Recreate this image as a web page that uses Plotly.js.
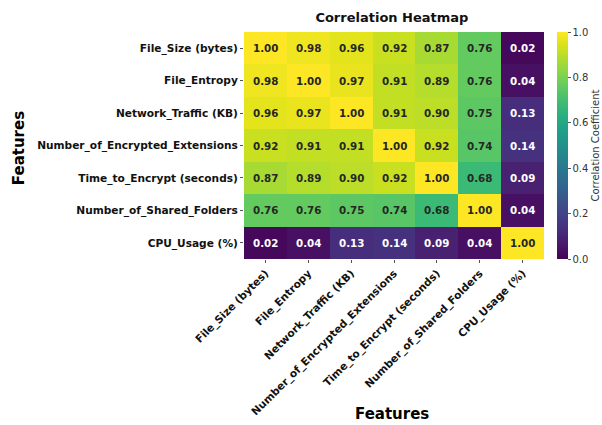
<!DOCTYPE html>
<html>
<head>
<meta charset="utf-8">
<script src="https://cdn.plot.ly/plotly-3.0.1.min.js"></script>
<style>html,body{margin:0;padding:0;background:#fff;}#chart{width:602px;height:425px;}</style>
</head>
<body>
<div id="chart"></div>
<script>
const features = ["File_Size (bytes)", "File_Entropy", "Network_Traffic (KB)", "Number_of_Encrypted_Extensions", "Time_to_Encrypt (seconds)", "Number_of_Shared_Folders", "CPU_Usage (%)"];
const rowFileSize   = [1.00, 0.98, 0.96, 0.92, 0.87, 0.76, 0.02];
const rowEntropy    = [0.98, 1.00, 0.97, 0.91, 0.89, 0.76, 0.04];
const rowNetwork    = [0.96, 0.97, 1.00, 0.91, 0.90, 0.75, 0.13];
const rowExtensions = [0.92, 0.91, 0.91, 1.00, 0.92, 0.74, 0.14];
const rowTime       = [0.87, 0.89, 0.90, 0.92, 1.00, 0.68, 0.09];
const rowFolders    = [0.76, 0.76, 0.75, 0.74, 0.68, 1.00, 0.04];
const rowCPU        = [0.02, 0.04, 0.13, 0.14, 0.09, 0.04, 1.00];
const colorbarTicks = [0.0, 0.2, 0.4, 0.6, 0.8, 1.0];

const z = [rowFileSize, rowEntropy, rowNetwork, rowExtensions, rowTime, rowFolders, rowCPU];
const font = "DejaVu Sans, sans-serif";

const annotations = [];
z.forEach((row, i) => row.forEach((v, j) => {
  annotations.push({
    x: features[j], y: features[i], xref: 'x', yref: 'y',
    text: '<b>' + v.toFixed(2) + '</b>', showarrow: false,
    font: {family: font, size: 10.3, color: v > 0.5 ? '#262626' : '#ffffff'}
  });
}));
annotations.push({text: '<b>Features</b>', xref: 'paper', yref: 'paper', x: 0.493, y: -0.683, xanchor: 'center', yanchor: 'middle', showarrow: false, font: {family: font, size: 15, color: '#000'}});
annotations.push({text: '<b>Features</b>', xref: 'paper', yref: 'paper', x: -0.752, y: 0.49, xanchor: 'center', yanchor: 'middle', textangle: -90, showarrow: false, font: {family: font, size: 15, color: '#000'}});
annotations.push({text: 'Correlation Coefficient', xref: 'paper', yref: 'paper', x: 1.17, y: 0.5, xanchor: 'center', yanchor: 'middle', textangle: -90, showarrow: false, font: {family: font, size: 10, color: '#333'}});

const trace = {
  type: 'heatmap', x: features, y: features, z: z,
  colorscale: 'Viridis', zmin: 0, zmax: 1, xgap: 0, ygap: 0,
  hoverinfo: 'skip',
  colorbar: {
    x: 1.043, xanchor: 'left', xpad: 0, ypad: 0, y: 0.5, yanchor: 'middle', len: 1, lenmode: 'fraction',
    thickness: 11, outlinewidth: 0, tickvals: colorbarTicks, ticktext: colorbarTicks.map(v => v.toFixed(1)),
    ticks: 'outside', ticklen: 3, tickcolor: '#555', tickfont: {family: font, size: 10, color: '#333'}
  }
};

const layout = {
  width: 602, height: 425,
  margin: {l: 244, r: 58, t: 32, b: 166},
  paper_bgcolor: '#fff', plot_bgcolor: '#fff',
  title: {text: '<b>Correlation Heatmap</b>', x: 0.651, xanchor: 'center', y: 0.958, yanchor: 'middle', font: {family: font, size: 13, color: '#111'}},
  xaxis: {type: 'category', tickangle: -45, ticks: 'outside', ticklen: 3, tickcolor: '#555', showgrid: false, zeroline: false, showline: false, automargin: false,
          tickfont: {family: font, size: 10.6, color: '#111'}, tickprefix: '<b>', ticksuffix: '</b>'},
  yaxis: {type: 'category', autorange: 'reversed', ticks: 'outside', ticklen: 3, tickcolor: '#555', showgrid: false, zeroline: false, showline: false, automargin: false,
          tickfont: {family: font, size: 10.6, color: '#111'}, tickprefix: '<b>', ticksuffix: '</b>'},
  annotations: annotations
};

Plotly.newPlot('chart', [trace], layout, {displayModeBar: false, staticPlot: true});
</script>
</body>
</html>
